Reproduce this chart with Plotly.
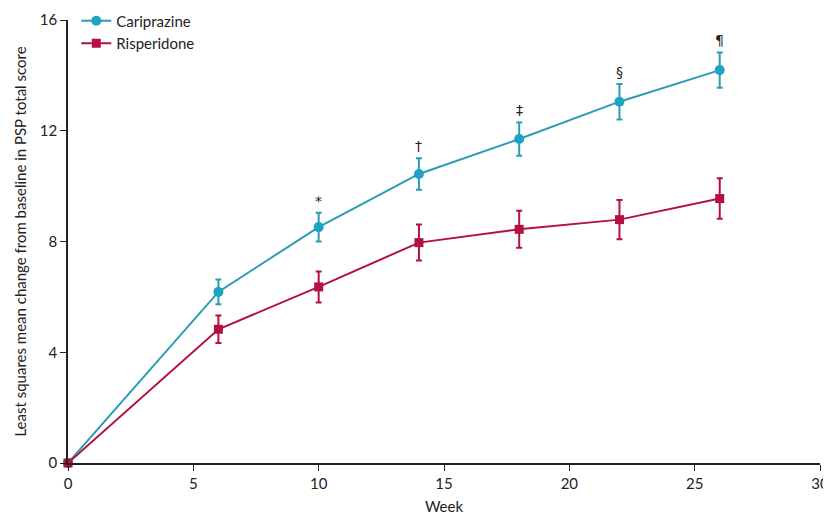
import plotly.graph_objects as go

weeks = [0, 6, 10, 14, 18, 22, 26]
cariprazine = [0, 6.18, 8.52, 10.44, 11.70, 13.05, 14.19]
cariprazine_err = [0, 0.45, 0.52, 0.57, 0.60, 0.64, 0.64]
risperidone = [0, 4.83, 6.36, 7.96, 8.44, 8.79, 9.55]
risperidone_err = [0, 0.50, 0.56, 0.65, 0.67, 0.71, 0.73]
sig_weeks = [10, 14, 18, 22, 26]
sig_marks = ["*", "†", "‡", "§", "¶"]

teal = "#1fa3c4"
teal_line = "#2a9db3"
crimson = "#b3113f"

fig = go.Figure()
fig.add_trace(go.Scatter(
    x=weeks, y=cariprazine, name="Cariprazine", mode="lines+markers",
    line=dict(color=teal_line, width=2),
    marker=dict(color=teal, size=10, symbol="circle"),
    error_y=dict(type="data", array=cariprazine_err, color=teal_line, thickness=2, width=3),
    cliponaxis=False,
))
fig.add_trace(go.Scatter(
    x=weeks, y=risperidone, name="Risperidone", mode="lines+markers",
    line=dict(color=crimson, width=2),
    marker=dict(color=crimson, size=9, symbol="square"),
    error_y=dict(type="data", array=risperidone_err, color=crimson, thickness=2, width=3),
    cliponaxis=False,
))

for w, m in zip(sig_weeks, sig_marks):
    i = weeks.index(w)
    fig.add_annotation(x=w, y=cariprazine[i] + cariprazine_err[i], text=m,
                       showarrow=False, yanchor="bottom", yshift=2,
                       font=dict(size=14, color="#222", family="DejaVu Sans"))

# page body has an 8px default margin, so the figure is sized to fit the window
fig.update_layout(
    width=823, height=507,
    margin=dict(l=60, r=11, t=12, b=52, autoexpand=False),
    plot_bgcolor="white", paper_bgcolor="white",
    font=dict(family="Lato, sans-serif", size=15, color="#222"),
    showlegend=True,
    legend=dict(x=0.011, y=1.035, xanchor="left", yanchor="top",
                bgcolor="rgba(0,0,0,0)", font=dict(size=15),
                tracegroupgap=0),
    xaxis=dict(range=[0, 30], tickmode="array", tickvals=[0, 5, 10, 15, 20, 25, 30],
               showline=True, linecolor="#222", linewidth=1.5, ticks="outside",
               ticklen=6, tickcolor="#222", showgrid=False, zeroline=False,
               automargin=False, ticklabelstandoff=0,
               title=dict(text="Week", standoff=12, font=dict(size=15))),
    yaxis=dict(range=[0, 16], tickmode="array", tickvals=[0, 4, 8, 12, 16],
               showline=True, linecolor="#222", linewidth=1.5, ticks="outside",
               ticklen=6, tickcolor="#222", showgrid=False, zeroline=False,
               automargin=False,
               title=dict(text="Least squares mean change from baseline in PSP total score",
                          standoff=10, font=dict(size=15))),
)

fig.write_html("out.html")
